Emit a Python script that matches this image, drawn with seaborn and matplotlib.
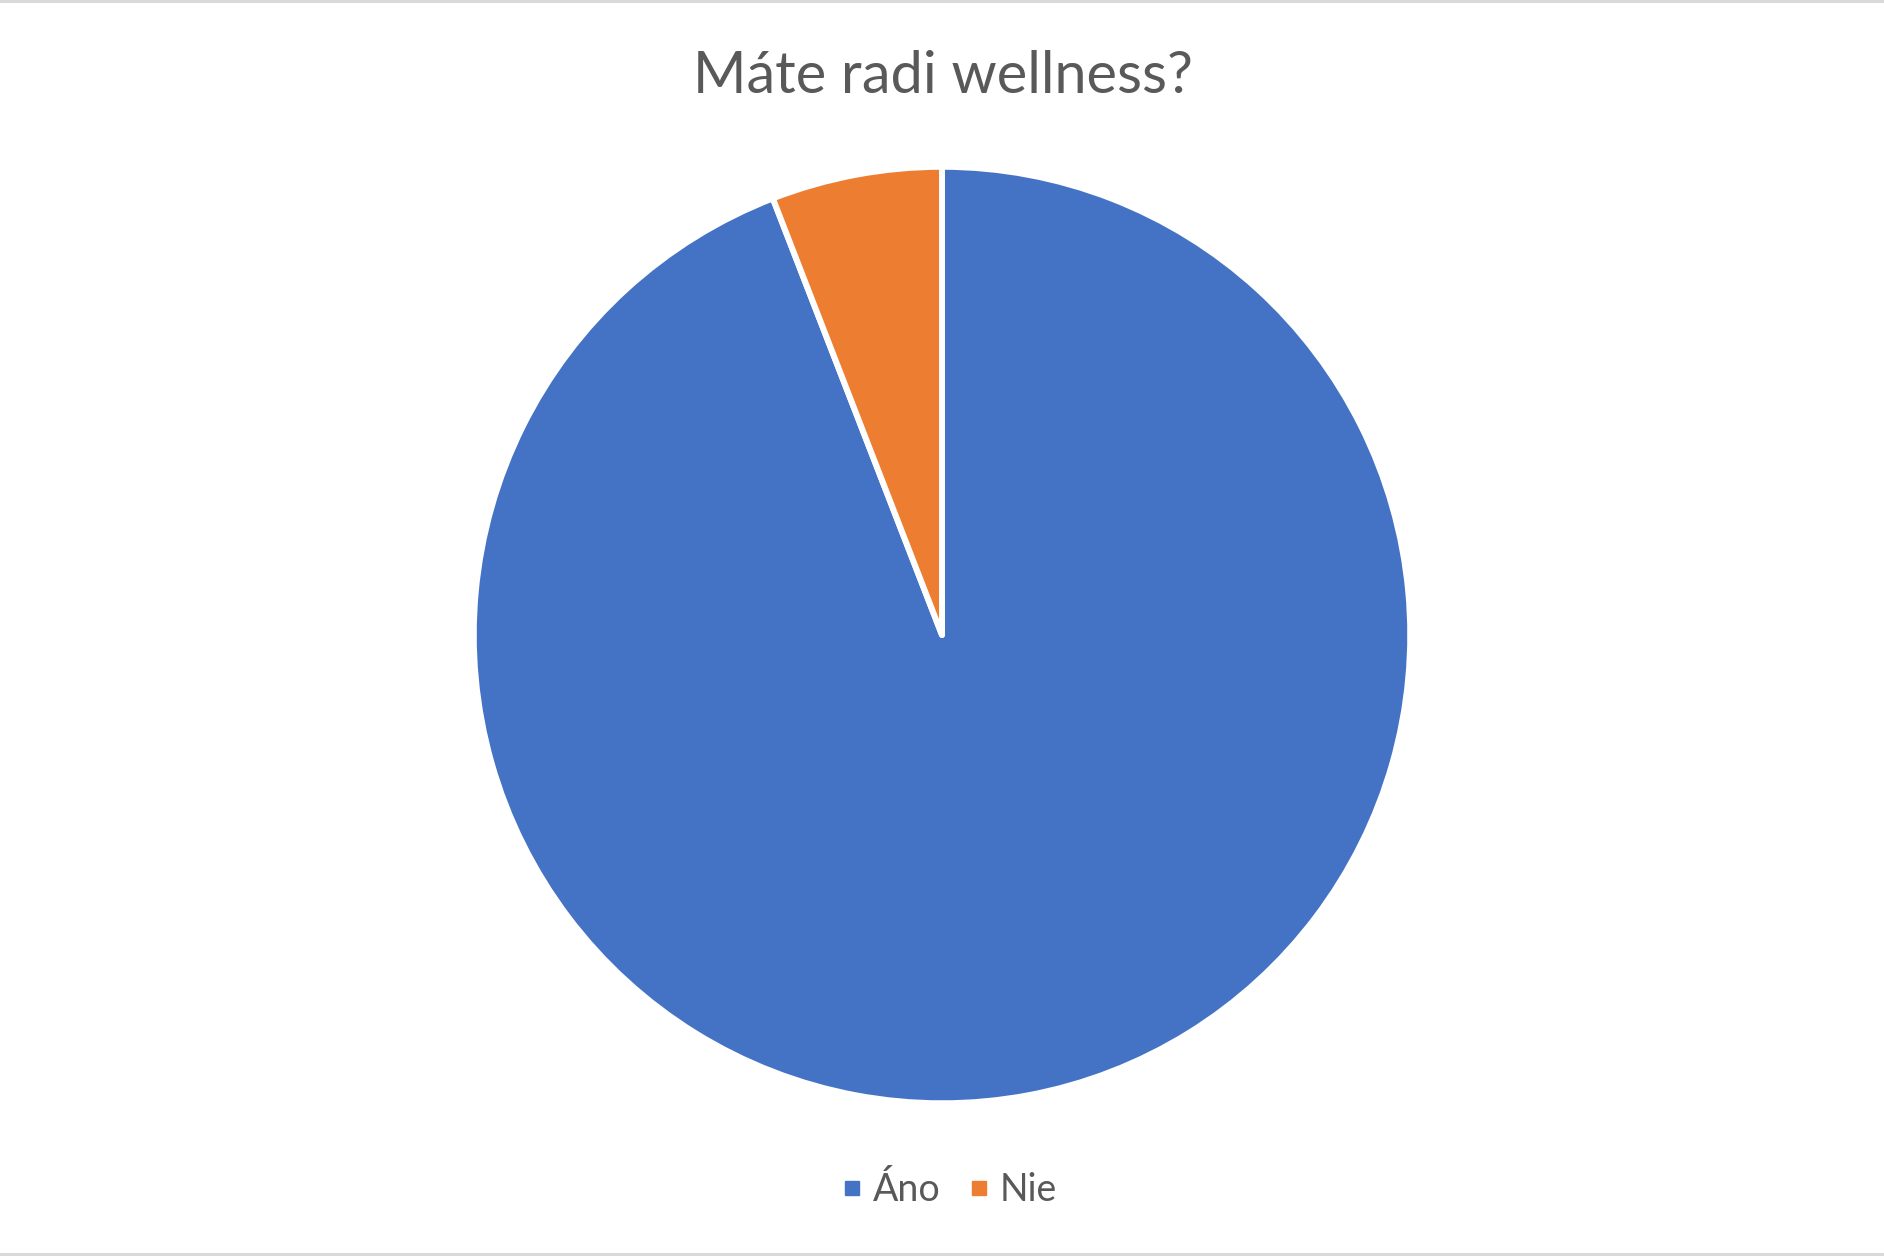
import matplotlib
matplotlib.use("Agg")
import matplotlib.pyplot as plt
import seaborn as sns
from matplotlib.lines import Line2D
from matplotlib.patches import Rectangle

categories = ["Áno", "Nie"]
values = [16, 1]
colors = ["#4472C4", "#ED7D31"]
title = "Máte radi wellness?"

sns.set_theme(style="white")
plt.rcParams['font.family'] = ['Lato', 'DejaVu Sans']

fig = plt.figure(figsize=(18.84, 12.56), dpi=100)
fig.patch.set_facecolor("white")

ax = fig.add_axes([0.2532, 0.1242, 0.4936, 0.7404])
ax.pie(values, colors=colors, startangle=90, counterclock=False,
       wedgeprops=dict(edgecolor="white", linewidth=4.3, joinstyle="round"), radius=1.0)
ax.set_xlim(-0.993, 0.993)
ax.set_ylim(-0.993, 0.993)
ax.set_aspect("equal")
ax.axis("off")

fig.text(943/1884, 1 - 93/1256, title, ha="center", va="baseline",
         fontsize=41.5, color="#595959")

handles = [Line2D([0], [0], marker="s", linestyle="none", markersize=10.5,
                  markerfacecolor=c, markeredgecolor=c) for c in colors]
leg = fig.legend(handles, categories, loc="center", bbox_to_anchor=(949/1884, 1 - 1190/1256),
                 ncol=2, frameon=False, fontsize=27, handletextpad=0.28,
                 columnspacing=0.75, handlelength=0.55)
for t in leg.get_texts():
    t.set_color("#595959")

fig.add_artist(Rectangle((0, 1 - 3/1256), 1, 3/1256, transform=fig.transFigure,
                         facecolor="#d9d9d9", edgecolor="none"))
fig.add_artist(Rectangle((0, 0), 1, 3/1256, transform=fig.transFigure,
                         facecolor="#d9d9d9", edgecolor="none"))

fig.savefig("out.png", dpi=100, facecolor="white")
